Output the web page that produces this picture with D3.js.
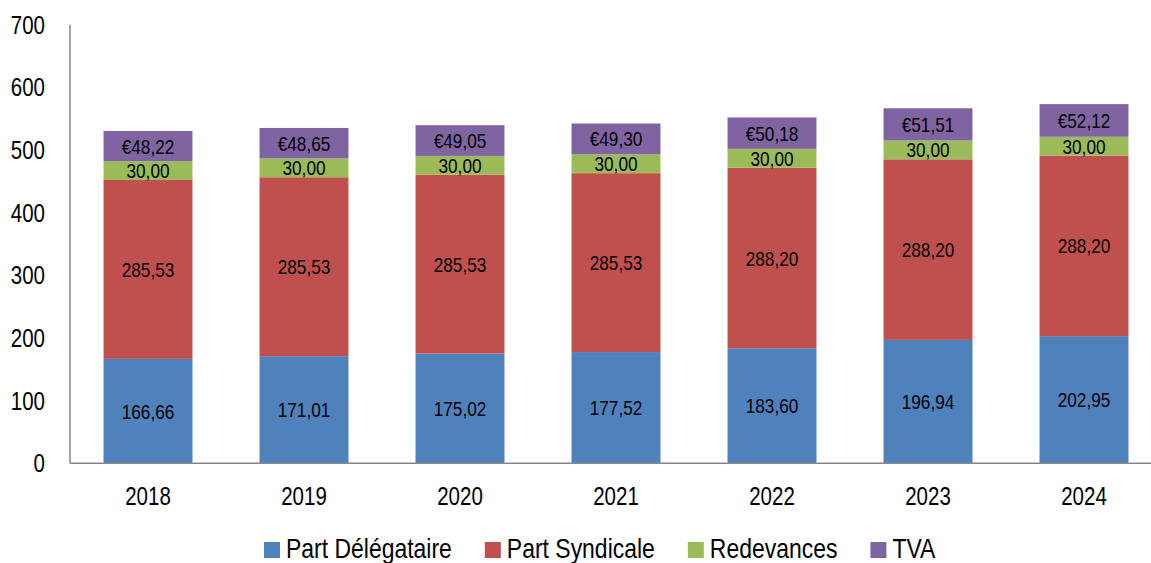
<!DOCTYPE html>
<html>
<head>
<meta charset="utf-8">
<script src="https://cdn.jsdelivr.net/npm/d3@7"></script>
<style>
  body { margin: 0; background: #fff; }
  svg text { font-family: "Liberation Sans", Arial, sans-serif; fill: #000; }
</style>
</head>
<body>
<svg id="chart"></svg>
<script>
const years = ['2018', '2019', '2020', '2021', '2022', '2023', '2024'];
const partDelegataire = [166.66, 171.01, 175.02, 177.52, 183.60, 196.94, 202.95];
const partSyndicale = [285.53, 285.53, 285.53, 285.53, 288.20, 288.20, 288.20];
const redevances = [30, 30, 30, 30, 30, 30, 30];
const tva = [48.22, 48.65, 49.05, 49.30, 50.18, 51.51, 52.12];
const seriesNames = ['Part Délégataire', 'Part Syndicale', 'Redevances', 'TVA'];
const yTicks = [0, 100, 200, 300, 400, 500, 600, 700];

const colors = ['#4F81BD', '#C0504D', '#9BBB59', '#8064A2'];
const W = 1151, H = 563;
const narrow = 0.82; // no Arial Narrow installed, squeeze Liberation Sans instead

const svg = d3.select('#chart').attr('width', W).attr('height', H);

// table for the stack
const rows = years.map((y, i) => ({
  year: y,
  [seriesNames[0]]: partDelegataire[i],
  [seriesNames[1]]: partSyndicale[i],
  [seriesNames[2]]: redevances[i],
  [seriesNames[3]]: tva[i]
}));
const stacked = d3.stack().keys(seriesNames)(rows);

const x = d3.scaleBand().domain(years).range([70, 1162]).paddingInner(0.43).paddingOuter(0.215);
const y = d3.scaleLinear().domain([0, 700]).range([463.3, 24.7]);

const fmt = v => d3.format('.2f')(v).replace('.', ',');
const place = (px, py) => `translate(${px},${py}) scale(${narrow},1)`;

const layer = svg.selectAll('.layer').data(stacked).enter().append('g')
  .attr('fill', (d, i) => colors[i]);

layer.selectAll('rect').data(d => d).enter().append('rect')
  .attr('x', d => x(d.data.year))
  .attr('width', x.bandwidth())
  .attr('y', d => y(d[1]))
  .attr('height', d => y(d[0]) - y(d[1]));

layer.each(function (s, si) {
  d3.select(this).selectAll('text').data(s).enter().append('text')
    .attr('transform', d => place(x(d.data.year) + x.bandwidth() / 2, (y(d[0]) + y(d[1])) / 2))
    .attr('dy', '0.36em')
    .attr('text-anchor', 'middle')
    .style('font-size', '21px')
    .text(d => (si === 3 ? '€' : '') + fmt(d[1] - d[0]));
});

// axes
svg.append('line').attr('x1', 70).attr('x2', 70).attr('y1', y(700)).attr('y2', y(0))
  .attr('stroke', '#868686').attr('stroke-width', 1.5);
svg.append('line').attr('x1', 70).attr('x2', W).attr('y1', y(0)).attr('y2', y(0))
  .attr('stroke', '#868686').attr('stroke-width', 1.5);

svg.selectAll('.ytick').data(yTicks).enter().append('text')
  .attr('transform', d => place(45, y(d))).attr('dy', '0.36em')
  .attr('text-anchor', 'end').style('font-size', '25px')
  .text(d => d);

svg.selectAll('.xtick').data(years).enter().append('text')
  .attr('transform', d => place(x(d) + x.bandwidth() / 2, 496)).attr('dy', '0.36em')
  .attr('text-anchor', 'middle').style('font-size', '25px')
  .text(d => d);

// legend
const legend = svg.append('g').attr('transform', 'translate(0,558)');
let lx = 264;
seriesNames.forEach((name, i) => {
  const g = legend.append('g').attr('transform', `translate(${lx},0)`);
  g.append('rect').attr('x', 0).attr('y', -16).attr('width', 16).attr('height', 16).attr('fill', colors[i]);
  const t = g.append('text').attr('transform', place(22, 0)).style('font-size', '28px').text(name);
  lx += 22 + t.node().getComputedTextLength() * narrow + 33;
});
</script>
</body>
</html>
